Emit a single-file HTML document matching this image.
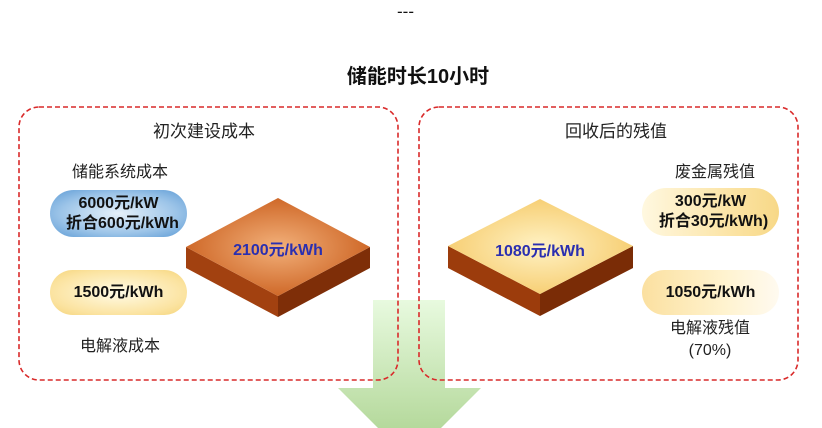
<!DOCTYPE html>
<html style="overflow:hidden;height:428px"><head><meta charset="utf-8"><style>
html,body{margin:0;width:822px;height:428px;background:#fff;overflow:hidden;}
body{position:relative;font-family:"Liberation Sans","Noto Sans CJK SC",sans-serif;}
.t{position:absolute;white-space:nowrap;text-align:center;color:#222;}
.b{font-weight:bold;}
.pill{position:absolute;border-radius:24px;display:flex;align-items:center;justify-content:center;flex-direction:column;font-weight:bold;font-size:16px;line-height:20px;color:#111;}
</style></head><body>
<svg width="822" height="428" viewBox="0 0 822 428" style="position:absolute;left:0;top:0;display:block">
<defs>
<linearGradient id="ag" x1="0" y1="0" x2="0" y2="1"><stop offset="0" stop-color="#e8fadf"/><stop offset="1" stop-color="#b5d99c"/></linearGradient>
<radialGradient id="lt" cx="0.5" cy="0.5" r="0.6"><stop offset="0" stop-color="#f2b07a"/><stop offset="1" stop-color="#c85a18"/></radialGradient>
<radialGradient id="rt" cx="0.5" cy="0.5" r="0.6"><stop offset="0" stop-color="#fff2c4"/><stop offset="1" stop-color="#f5c865"/></radialGradient>
</defs>
<polygon points="373,300 445,300 445,388 481,388 441,428 378,428 338,388 373,388" fill="url(#ag)"/>
<rect x="19" y="107" width="379" height="273" rx="20" fill="none" stroke="#d92a2a" stroke-width="1.6" stroke-dasharray="5,3"/>
<rect x="419" y="107" width="379" height="273" rx="20" fill="none" stroke="#d92a2a" stroke-width="1.6" stroke-dasharray="5,3"/>
<polygon points="186,247 278,296 278,317 186,268" fill="#a24110"/>
<polygon points="278,296 370,247 370,268 278,317" fill="#7e2e08"/>
<polygon points="278,198 370,247 278,296 186,247" fill="url(#lt)"/>
<polygon points="448,246 540,294 540,316 448,268" fill="#9c3c0c"/>
<polygon points="540,294 633,246 633,268 540,316" fill="#7a2c06"/>
<polygon points="540,199 633,246 540,294 448,246" fill="url(#rt)"/>
</svg>
<div class="t" style="left:397px;top:2px;font-size:17px;color:#111">---</div>
<div class="t b" style="left:318px;top:60px;width:200px;font-size:20px;color:#111">储能时长10小时</div>
<div class="t" style="left:124px;top:117px;width:160px;font-size:17px">初次建设成本</div>
<div class="t" style="left:536px;top:117px;width:160px;font-size:17px">回收后的残值</div>
<div class="t" style="left:60px;top:158px;width:120px;font-size:16px">储能系统成本</div>
<div class="t" style="left:60px;top:332px;width:120px;font-size:16px">电解液成本</div>
<div class="t" style="left:655px;top:158px;width:120px;font-size:16px">废金属残值</div>
<div class="t" style="left:650px;top:318px;width:120px;font-size:16px;line-height:22px">电解液残值<br>(70%)</div>
<div class="pill" style="left:50px;top:190px;width:137px;height:47px;background:radial-gradient(ellipse at 50% 50%,#e6f1fa 0%,#9cc4e8 60%,#5d9bd5 100%)">6000元/kW<span style="margin-left:8px">折合600元/kWh</span></div>
<div class="pill" style="left:50px;top:270px;width:137px;height:45px;background:radial-gradient(ellipse at 50% 50%,#fffbe6 0%,#fbe3a0 70%,#f5d47a 100%)">1500元/kWh</div>
<div class="pill" style="left:642px;top:188px;width:137px;height:48px;background:linear-gradient(90deg,#fff8e0,#fbe2a0 70%,#f7d887)">300元/kW<span style="margin-left:6px">折合30元/kWh)</span></div>
<div class="pill" style="left:642px;top:270px;width:137px;height:45px;background:linear-gradient(90deg,#fbe0a0,#fff3cf 60%,#fffaf0)">1050元/kWh</div>
<div class="t b" style="left:208px;top:236px;width:140px;font-size:16px;color:#2a2fb0">2100元/kWh</div>
<div class="t b" style="left:470px;top:237px;width:140px;font-size:16px;color:#2a2fb0">1080元/kWh</div>
</body></html>
